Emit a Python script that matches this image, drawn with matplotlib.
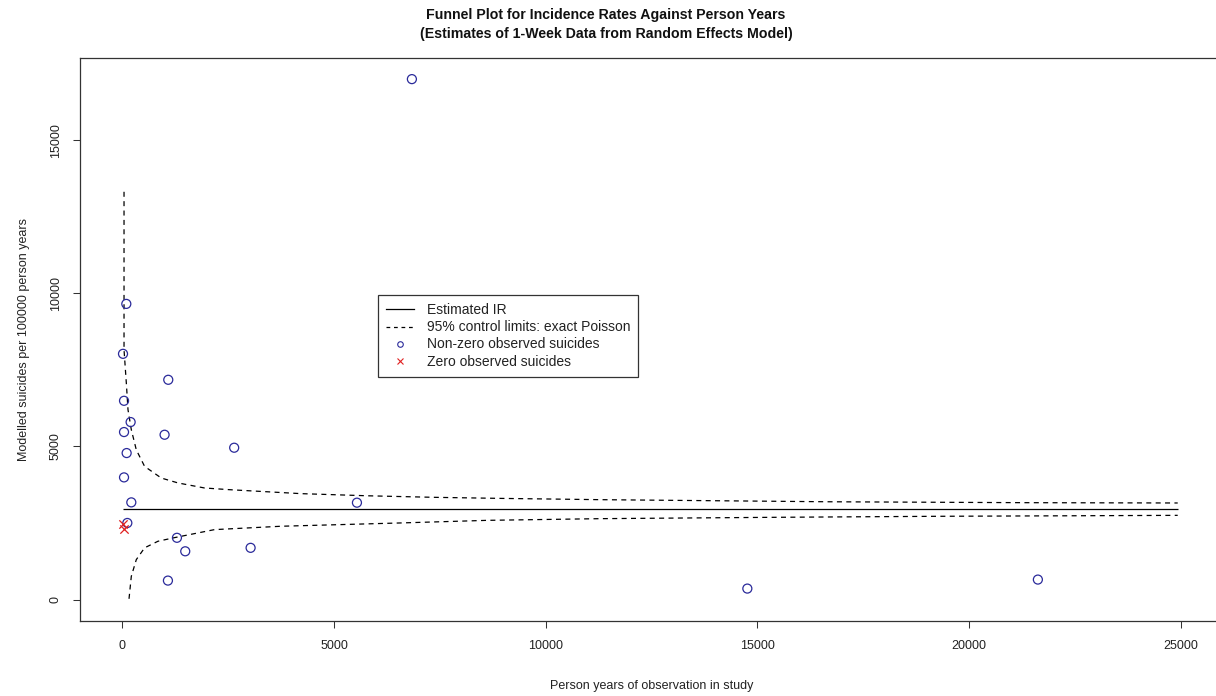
import matplotlib
matplotlib.use("Agg")
import matplotlib.pyplot as plt
from matplotlib.lines import Line2D

plt.rcParams['font.family'] = ['Liberation Sans', 'DejaVu Sans']

# Observed studies (person years, modelled suicides per 100000 py)
obs_py = [6840, 94, 16, 1085, 40, 196, 40, 998, 2642, 102, 40, 212, 5542,
          118, 1290, 1486, 3030, 1077, 14764, 21627]
obs_rate = [17000, 9658, 8027, 7179, 6493, 5798, 5472, 5384, 4960, 4786, 3991,
            3175, 3165, 2502, 2018, 1577, 1690, 620, 359, 653]

# Studies with zero observed suicides
zero_py = [25, 30]
zero_rate = [2480, 2320]

# Estimated incidence rate
ir_value = 2950
ir_py = [15, 24930]

# 95% control limits (exact Poisson)
upper_py = [40, 40, 94, 134, 212, 330, 526, 920, 1314, 1941, 2524, 4222, 5795,
            7358, 8939, 11297, 13500, 16650, 21300, 24930]
upper_rate = [13320, 8160, 7080, 6200, 5550, 4890, 4350, 3970, 3810, 3645, 3590,
              3460, 3390, 3340, 3305, 3263, 3235, 3195, 3165, 3155]
lower_py = [158, 212, 330, 526, 842, 1274, 2177, 3750, 6580, 8625, 11297,
            15200, 19250, 24930]
lower_rate = [25, 760, 1305, 1690, 1905, 2035, 2285, 2395, 2503, 2588, 2643,
              2685, 2720, 2751]

x_ticks = [0, 5000, 10000, 15000, 20000, 25000]
y_ticks = [0, 5000, 10000, 15000]

title = ("Funnel Plot for Incidence Rates Against Person Years\n"
         "(Estimates of 1-Week Data from Random Effects Model)")
xlabel = "Person years of observation in study"
ylabel = "Modelled suicides per 100000 person years"
legend_labels = ["Estimated IR", "95% control limits: exact Poisson",
                 "Non-zero observed suicides", "Zero observed suicides"]

blue = '#2a2a9a'
red = '#e02020'

fig = plt.figure(figsize=(12.16, 6.96), dpi=100)
ax = fig.add_axes([80 / 1216, 1 - 621 / 696, 1143 / 1216, 563 / 696])

ax.plot(ir_py, [ir_value, ir_value], color='black', lw=0.9, solid_capstyle='butt')
ax.plot(upper_py, upper_rate, color='black', lw=0.9, linestyle=(0, (4, 3.5)))
ax.plot(lower_py, lower_rate, color='black', lw=0.9, linestyle=(0, (4, 3.5)))
ax.scatter(obs_py, obs_rate, s=42, facecolors='none', edgecolors=blue,
           linewidths=0.9, zorder=3)
ax.scatter(zero_py, zero_rate, s=36, marker='x', color=red, linewidths=0.9,
           zorder=4)

ax.set_xlim(-1000, 26000)
ax.set_ylim(-700, 17690)
ax.set_xticks(x_ticks)
ax.set_xticklabels([str(v) for v in x_ticks])
ax.set_yticks(y_ticks)
ax.set_yticklabels([str(v) for v in y_ticks], rotation=90, va='center')
ax.tick_params(axis='both', length=5, width=0.75, color='#333333',
               labelsize=9, labelcolor='#222222')
ax.tick_params(axis='x', pad=9)
ax.tick_params(axis='y', pad=8)
for sp in ax.spines.values():
    sp.set_color('#333333')
    sp.set_linewidth(0.9)

ax.set_xlabel(xlabel, fontsize=9, color='#222222', labelpad=20)
ax.set_ylabel(ylabel, fontsize=9, color='#222222', labelpad=14)

fig.text(606 / 1216, 1 - 24.5 / 696, title, ha='center', va='center',
         fontsize=10.2, fontweight='bold', linespacing=1.45, color='#111111')

handles = [
    Line2D([], [], color='black', lw=0.9),
    Line2D([], [], color='black', lw=0.9, linestyle=(0, (3, 3))),
    Line2D([], [], color=blue, marker='o', markersize=4, markerfacecolor='none',
           markeredgewidth=0.8, linestyle='none'),
    Line2D([], [], color=red, marker='x', markersize=4, markeredgewidth=0.8,
           linestyle='none'),
]
leg = ax.legend(handles, legend_labels, loc='upper left',
                bbox_to_anchor=(0.2607, 0.579), fontsize=10, frameon=True,
                fancybox=False, edgecolor='black', borderpad=0.6,
                labelspacing=0.22, handlelength=2.0, handletextpad=0.9,
                borderaxespad=0)
leg.get_frame().set_linewidth(0.9)
for t in leg.get_texts():
    t.set_color('#222222')

fig.savefig('out.png', dpi=100)
